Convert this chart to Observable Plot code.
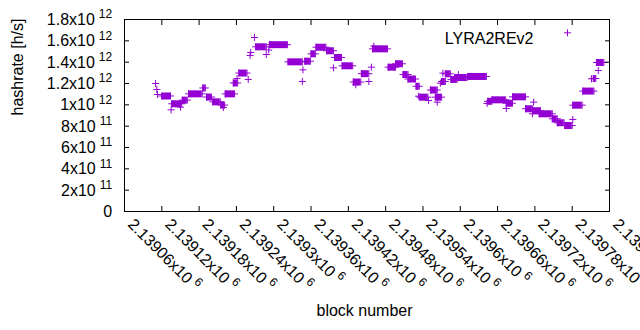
<!DOCTYPE html>
<html><head><meta charset="utf-8">
<script src="https://cdn.jsdelivr.net/npm/d3@7"></script>
<script src="https://cdn.jsdelivr.net/npm/@observablehq/plot@0.6"></script>
<style>body{margin:0;background:#fff} svg{display:block}</style>
</head><body><div id="chart"></div>
<script>
// Runs of blocks with the same hashrate estimate (start block, end block, hashrate in h/s)
const runStart = [2139110,2139112,2139113,2139120,2139135,2139136,2139150,2139153,2139163,2139186,
  2139192,2139202,2139215,2139219,2139222,2139235,2139241,2139244,2139259,2139262,
  2139263,2139269,2139271,2139288,2139292,2139293,2139323,2139347,2139346,2139350,
  2139360,2139368,2139385,2139396,2139398,2139410,2139428,2139432,2139441,2139453,
  2139457,2139459,2139461,2139484,2139496,2139508,2139516,2139529,2139533,2139535,
  2139549,2139552,2139560,2139563,2139568,2139570,2139572,2139576,2139585,2139597,
  2139591,2139612,2139643,2139644,2139651,2139674,2139674,2139684,2139705,2139718,
  2139716,2139717,2139727,2139748,2139756,2139768,2139781,2139781,2139797,2139811,
  2139814,2139822,2139819];
const runEnd = [2139110,2139112,2139113,2139134,2139135,2139152,2139150,2139161,2139185,2139190,
  2139200,2139214,2139221,2139219,2139237,2139242,2139241,2139257,2139259,2139262,
  2139263,2139269,2139288,2139288,2139292,2139322,2139346,2139347,2139346,2139359,
  2139367,2139384,2139396,2139396,2139409,2139427,2139440,2139432,2139453,2139453,
  2139457,2139483,2139461,2139496,2139507,2139516,2139528,2139534,2139533,2139548,
  2139549,2139563,2139570,2139563,2139568,2139576,2139572,2139584,2139595,2139597,
  2139611,2139642,2139643,2139651,2139673,2139684,2139674,2139705,2139716,2139718,
  2139716,2139729,2139748,2139756,2139767,2139780,2139781,2139796,2139815,2139811,
  2139818,2139822,2139831];
const runHashrate = [1.200e12,1.144e12,1.097e12,1.083e12,0.953e12,1.010e12,0.978e12,1.044e12,1.103e12,1.158e12,
  1.073e12,1.028e12,0.998e12,0.975e12,1.103e12,1.205e12,1.247e12,1.298e12,1.238e12,1.463e12,
  1.491e12,1.631e12,1.544e12,1.472e12,1.514e12,1.564e12,1.403e12,1.328e12,1.219e12,1.409e12,
  1.478e12,1.540e12,1.507e12,1.347e12,1.444e12,1.366e12,1.214e12,1.188e12,1.292e12,1.219e12,
  1.353e12,1.525e12,1.550e12,1.353e12,1.385e12,1.284e12,1.242e12,1.174e12,1.081e12,1.072e12,
  1.041e12,1.139e12,1.072e12,1.025e12,1.203e12,1.219e12,1.297e12,1.291e12,1.238e12,1.284e12,
  1.256e12,1.266e12,1.013e12,1.033e12,1.047e12,1.015e12,0.966e12,1.075e12,0.963e12,1.025e12,
  0.916e12,0.945e12,0.916e12,0.869e12,0.832e12,0.806e12,0.863e12,0.997e12,1.129e12,1.244e12,
  1.247e12,1.322e12,1.397e12];
const seriesName = "LYRA2REv2";
const xTicks = [2139060,2139120,2139180,2139240,2139300,2139360,2139420,2139480,2139540,2139600,2139660,2139720,2139780,2139840];
const xTickMantissa = ["2.13906x10","2.13912x10","2.13918x10","2.13924x10","2.1393x10","2.13936x10","2.13942x10",
  "2.13948x10","2.13954x10","2.1396x10","2.13966x10","2.13972x10","2.13978x10","2.13984x10"];
const xTickExponent = ["6","6","6","6","6","6","6","6","6","6","6","6","6","6"];
const yTicks = [0,2e11,4e11,6e11,8e11,1e12,1.2e12,1.4e12,1.6e12,1.8e12];
const yTickMantissa = ["0","2x10","4x10","6x10","8x10","1x10","1.2x10","1.4x10","1.6x10","1.8x10"];
const yTickExponent = ["","11","11","11","11","12","12","12","12","12"];
const xLabel = "block number";
const yLabel = "hashrate [h/s]";

const color = "#9400d3";
const runs = runStart.map((s, i) => ({start: s, end: runEnd[i], value: runHashrate[i]}));
const longRuns = runs.filter(d => d.end > d.start);
const endPoints = runs.flatMap(d => d.end > d.start
  ? [{x: d.start, y: d.value}, {x: d.end, y: d.value}]
  : [{x: d.start, y: d.value}]);

const plus = {draw(ctx, size) {
  const r = Math.sqrt(size / Math.PI);
  ctx.moveTo(-r, 0); ctx.lineTo(r, 0);
  ctx.moveTo(0, -r); ctx.lineTo(0, r);
}};

const svg = Plot.plot({
  width: 640, height: 330,
  marginLeft: 124, marginRight: 31, marginTop: 19, marginBottom: 119,
  style: {fontFamily: "'Liberation Sans', Arial, sans-serif", fontSize: "16px", background: "white", color: "black"},
  x: {domain: [2139060, 2139840], label: null},
  y: {domain: [0, 1.8e12], label: null},
  marks: [
    Plot.ruleY(longRuns, {x1: "start", x2: "end", y: "value", stroke: color, strokeWidth: 7}),
    Plot.dot(endPoints, {x: "x", y: "y", symbol: plus, r: 3.5, stroke: color, strokeWidth: 1, fill: "none"}),
    Plot.axisY(yTicks, {anchor: "left", tickSize: -5, tickFormat: () => "", label: null}),
    Plot.axisY(yTicks, {anchor: "right", tickSize: -5, tickFormat: () => "", label: null}),
    Plot.axisX(xTicks, {anchor: "bottom", tickSize: -5, tickFormat: () => "", label: null}),
    Plot.axisX(xTicks, {anchor: "top", tickSize: -5, tickFormat: () => "", label: null}),
    Plot.frame({stroke: "black", strokeWidth: 1}),
    Plot.text(yTicks, {y: d => d, text: (d, i) => yTickMantissa[i], frameAnchor: "left", dx: -12.3, dy: 0.5, textAnchor: "end", fill: "black"}),
    Plot.text(xTicks, {x: d => d, text: (d, i) => xTickMantissa[i], frameAnchor: "bottom", dx: 2.4, dy: 13.8, rotate: 45, textAnchor: "start", fill: "black"}),
    Plot.text([yLabel], {text: d => d, frameAnchor: "left", dx: -107, rotate: -90, fill: "black"}),
    Plot.text([xLabel], {text: d => d, frameAnchor: "bottom", dx: -2.5, dy: 104, fill: "black"}),
    Plot.text([seriesName], {text: d => d, frameAnchor: "top-right", dx: -76, dy: 13.3, textAnchor: "end", fill: "black"}),
    Plot.dot([seriesName], {frameAnchor: "top-right", dx: -42, dy: 13.3, symbol: plus, r: 3.5, stroke: color, strokeWidth: 1, fill: "none"})
  ]
});

// add the power-of-ten exponents as superscripts to the tick labels
const root = svg.tagName.toLowerCase() === "svg" ? svg : svg.querySelector("svg");
root.querySelectorAll("text").forEach(t => {
  const s = t.textContent;
  let e = "";
  const yi = yTickMantissa.indexOf(s);
  const xi = xTickMantissa.indexOf(s);
  if (yi >= 0) e = yTickExponent[yi];
  else if (xi >= 0) e = xTickExponent[xi];
  if (e) {
    const ts = document.createElementNS("http://www.w3.org/2000/svg", "tspan");
    ts.setAttribute("dx", "4");
    ts.setAttribute("dy", "-6.7");
    ts.setAttribute("font-size", "12");
    ts.textContent = e;
    t.appendChild(ts);
  }
});

document.getElementById("chart").appendChild(svg);
</script>
</body></html>
